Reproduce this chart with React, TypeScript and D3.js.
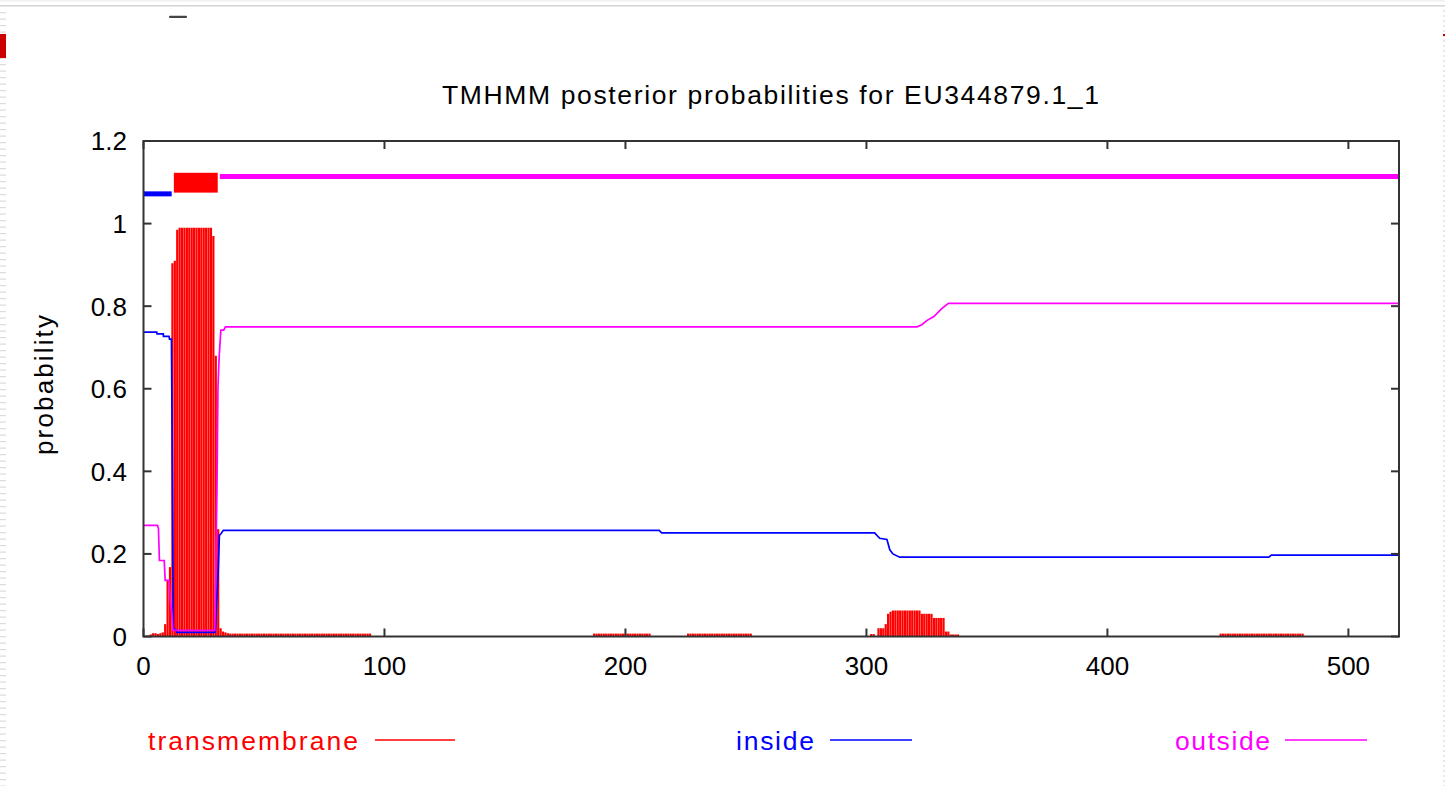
import React from "react";
import * as d3 from "d3";

// ---- data ----
const chartTitle = "TMHMM posterior probabilities for EU344879.1_1";
const seqLength = 521;
const xTicks = [0, 100, 200, 300, 400, 500];
const yTicks = [0, 0.2, 0.4, 0.6, 0.8, 1, 1.2];

// transmembrane posterior per residue, residues 1..40
const tmHelixRegion = [
  0, 0, 0.005, 0.008, 0.008, 0.006, 0.008, 0.01, 0.03, 0.136,
  0.168, 0.904, 0.91, 0.985, 0.99, 0.99, 0.99, 0.99, 0.99, 0.99,
  0.99, 0.99, 0.99, 0.99, 0.99, 0.99, 0.99, 0.99, 0.97, 0.68,
  0.26, 0.02, 0.012, 0.01, 0.008, 0.007, 0.007, 0.007, 0.007, 0.007,
];
// transmembrane posterior per residue, residues 300..340
const tmBumpStart = 300;
const tmBumpRegion = [
  0, 0, 0.006, 0.006, 0, 0.02, 0.02, 0.02, 0.03, 0.055,
  0.06, 0.063, 0.063, 0.063, 0.063, 0.063, 0.063, 0.063, 0.063, 0.063,
  0.063, 0.063, 0.063, 0.055, 0.055, 0.055, 0.055, 0.055, 0.045, 0.045,
  0.045, 0.045, 0.045, 0.012, 0.012, 0.005, 0.005, 0.005, 0.005, 0, 0,
];
// low-level transmembrane noise: [first residue, last residue, level]
const tmNoiseStart = [41, 187, 226, 447];
const tmNoiseEnd = [94, 210, 252, 481];
const tmNoiseLevel = [0.007, 0.007, 0.007, 0.007];

// inside probability: breakpoints (residue, value)
const insidePos = [0, 5.5, 5.6, 8.2, 8.3, 10.6, 10.8, 11.6, 11.8, 12.4, 13.6, 13.8, 29.6, 29.9, 30.3, 31.0, 31.5, 32.3, 33.1, 214, 215, 303.4, 305.5, 308.5, 309.7, 311, 313.8, 467, 468, 521];
const insideVal = [0.737, 0.737, 0.733, 0.733, 0.727, 0.727, 0.72, 0.72, 0.556, 0.02, 0.015, 0.01, 0.01, 0.02, 0.08, 0.16, 0.245, 0.25, 0.257, 0.257, 0.251, 0.251, 0.238, 0.235, 0.21, 0.2, 0.192, 0.192, 0.197, 0.197];

// outside probability: breakpoints (residue, value)
const outsidePos = [0, 5.8, 6.2, 6.6, 8.6, 9.0, 10.6, 11.2, 11.7, 12.2, 29.6, 30.0, 30.5, 30.9, 31.4, 32.1, 33.3, 34.0, 321, 323, 325, 328, 331, 334, 521];
const outsideVal = [0.269, 0.269, 0.262, 0.184, 0.184, 0.136, 0.136, 0.08, 0.06, 0.015, 0.015, 0.16, 0.362, 0.604, 0.677, 0.742, 0.742, 0.75, 0.75, 0.755, 0.765, 0.775, 0.793, 0.807, 0.807];

// predicted topology bars along the top
const topoNames = ["inside", "transmembrane", "outside"];
const topoStart = [0, 12.6, 31.7];
const topoEnd = [11.7, 30.8, 521];
const topoLevel = [1.072, 1.099, 1.114];

const legendNames = ["transmembrane", "inside", "outside"];

// ---- styling ----
const W = 1445;
const H = 786;
const FONT = "'Liberation Sans', Arial, Helvetica, sans-serif";
const colorOf: Record<string, string> = {
  transmembrane: "#ff0000",
  inside: "#0000ff",
  outside: "#ff00ff",
};

export default function App() {
  const x = d3.scaleLinear().domain([0, seqLength]).range([143.5, 1399]);
  const y = d3.scaleLinear().domain([0, 1.2]).range([636.5, 141]);

  // build per-residue TM impulses
  const tm: { r: number; v: number }[] = [];
  tmHelixRegion.forEach((v, i) => tm.push({ r: i + 1, v }));
  tmBumpRegion.forEach((v, i) => tm.push({ r: tmBumpStart + i, v }));
  tmNoiseStart.forEach((s, k) => {
    for (let r = s; r <= tmNoiseEnd[k]; r++) tm.push({ r, v: tmNoiseLevel[k] });
  });

  const line = d3
    .line<[number, number]>()
    .x((d) => x(d[0]))
    .y((d) => y(d[1]));
  const insidePath = line(insidePos.map((p, i) => [p, insideVal[i]]))!;
  const outsidePath = line(outsidePos.map((p, i) => [p, outsideVal[i]]))!;

  const [x0, x1] = x.range();
  const [yb, yt] = y.range();
  const tickLen = 8;
  const frameColor = "#333";

  // legend layout
  const legendText = [148, 736, 1175];
  const legendTextLen = [210, 78, 95];
  const legendLine = [
    [375, 455],
    [830, 912],
    [1285, 1367],
  ];

  // left dashed page border marks
  const leftMarks = d3.range(12, H, 6.5);

  return (
    <div style={{ position: "fixed", left: 0, top: 0, width: W, height: H, background: "#fff" }}>
      <svg width={W} height={H} style={{ display: "block" }} fontFamily={FONT}>
        <rect x={0} y={0} width={W} height={H} fill="#fff" />
        {/* page decorations */}
        <rect x={0} y={0} width={W} height={1.5} fill="#f0f0f0" />
        <rect x={0} y={5} width={W} height={1.6} fill="#d6d6d6" />
        <rect x={169} y={15.7} width={18} height={2.2} rx={1} fill="#444" />
        {leftMarks.map((m, i) => (
          <rect key={i} x={0} y={m} width={6} height={1.2} fill="#dcdcdc" />
        ))}
        <rect x={0} y={34} width={6} height={24} fill="#cc0000" />
        <line x1={1444} x2={1444} y1={10} y2={H} stroke="#d0d0d0" strokeWidth={1} strokeDasharray="2,3" />
        <rect x={1443} y={34} width={2} height={2} fill="#cc0000" />

        {/* title */}
        <text x={442} y={104} fontSize={26.5} fill="#000" textLength={657} lengthAdjust="spacing">
          {chartTitle}
        </text>

        {/* y label */}
        <text
          transform={`translate(53,385) rotate(-90)`}
          textAnchor="middle"
          fontSize={26}
          fill="#000"
          textLength={140}
          lengthAdjust="spacing"
        >
          probability
        </text>

        {/* TM impulses */}
        <g stroke={colorOf.transmembrane} strokeWidth={2.2}>
          {tm
            .filter((d) => d.v > 0)
            .map((d, i) => (
              <line key={i} x1={x(d.r)} x2={x(d.r)} y1={y(0)} y2={y(d.v)} />
            ))}
        </g>

        {/* inside / outside lines */}
        <path d={insidePath} fill="none" stroke={colorOf.inside} strokeWidth={1.7} />
        <path d={outsidePath} fill="none" stroke={colorOf.outside} strokeWidth={1.7} />

        {/* topology bars */}
        {topoNames.map((n, i) =>
          n === "transmembrane" ? (
            <rect
              key={n}
              x={x(topoStart[i])}
              width={x(topoEnd[i]) - x(topoStart[i])}
              y={y(topoLevel[i] + 0.024)}
              height={y(topoLevel[i] - 0.024) - y(topoLevel[i] + 0.024)}
              fill={colorOf[n]}
            />
          ) : (
            <line
              key={n}
              x1={x(topoStart[i])}
              x2={x(topoEnd[i])}
              y1={y(topoLevel[i])}
              y2={y(topoLevel[i])}
              stroke={colorOf[n]}
              strokeWidth={5}
            />
          )
        )}

        {/* frame */}
        <rect x={x0} y={yt} width={x1 - x0} height={yb - yt} fill="none" stroke={frameColor} strokeWidth={2} />
        {/* x ticks */}
        {xTicks.map((t) => (
          <g key={"x" + t}>
            <line x1={x(t)} x2={x(t)} y1={yb} y2={yb - tickLen} stroke={frameColor} strokeWidth={2} />
            <line x1={x(t)} x2={x(t)} y1={yt} y2={yt + tickLen} stroke={frameColor} strokeWidth={2} />
            <text x={x(t)} y={675} textAnchor="middle" fontSize={26} fill="#000">
              {t}
            </text>
          </g>
        ))}
        {/* y ticks */}
        {yTicks.map((t) => (
          <g key={"y" + t}>
            <line x1={x0} x2={x0 + tickLen} y1={y(t)} y2={y(t)} stroke={frameColor} strokeWidth={2} />
            <line x1={x1} x2={x1 - tickLen} y1={y(t)} y2={y(t)} stroke={frameColor} strokeWidth={2} />
            <text x={127} y={y(t)} dy="0.36em" textAnchor="end" fontSize={26} fill="#000">
              {d3.format("~g")(t)}
            </text>
          </g>
        ))}

        {/* legend */}
        {legendNames.map((n, i) => (
          <g key={"lg" + n}>
            <text
              x={legendText[i]}
              y={750}
              fontSize={26.5}
              fill={colorOf[n]}
              textLength={legendTextLen[i]}
              lengthAdjust="spacing"
            >
              {n}
            </text>
            <line
              x1={legendLine[i][0]}
              x2={legendLine[i][1]}
              y1={740}
              y2={740}
              stroke={colorOf[n]}
              strokeWidth={1.6}
            />
          </g>
        ))}
      </svg>
    </div>
  );
}
